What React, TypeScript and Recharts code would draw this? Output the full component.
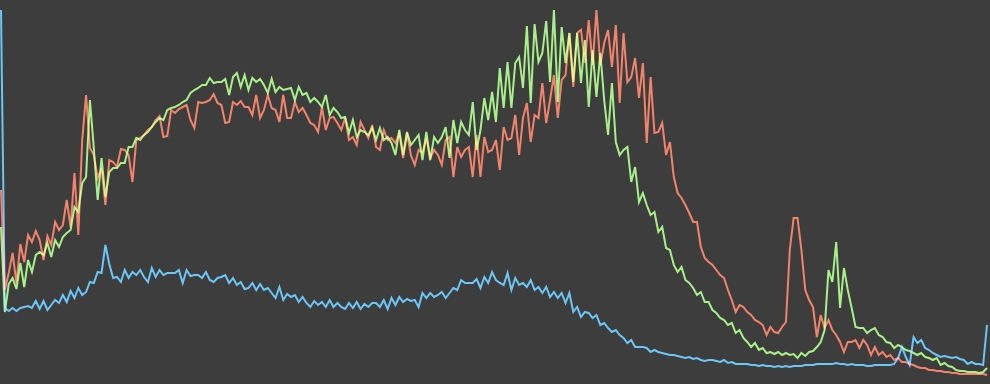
import React from "react";
import { LineChart, Line, XAxis, YAxis } from "recharts";

// Histogram counts per channel, 256 bins (0..255)
const RED: number[] = [
  186, 86, 103, 123, 93, 132, 114, 141, 134, 145, 136, 116, 140, 131, 154, 146,
  151, 176, 149, 203, 141, 236, 281, 228, 221, 198, 208, 171, 216, 214, 209, 227,
  226, 221, 194, 236, 238, 241, 246, 249, 256, 260, 239, 240, 266, 263, 267, 269,
  271, 256, 248, 274, 273, 274, 276, 282, 273, 271, 253, 254, 274, 271, 275, 269,
  269, 261, 281, 258, 266, 281, 268, 266, 254, 281, 258, 258, 274, 264, 268, 261,
  253, 251, 244, 269, 246, 258, 259, 253, 246, 258, 236, 239, 231, 254, 246, 238,
  251, 229, 226, 246, 236, 238, 233, 243, 218, 243, 221, 211, 226, 223, 238, 218,
  226, 221, 211, 236, 239, 199, 229, 219, 226, 229, 199, 241, 199, 239, 224, 226,
  236, 206, 249, 236, 238, 261, 221, 258, 273, 234, 261, 258, 293, 253, 276, 301,
  258, 296, 301, 343, 289, 343, 346, 313, 356, 311, 366, 311, 333, 346, 309, 351,
  273, 343, 294, 299, 318, 278, 313, 233, 299, 243, 244, 253, 221, 234, 199, 183,
  178, 171, 163, 154, 154, 129, 118, 114, 111, 106, 101, 98, 86, 76, 64, 71,
  69, 64, 61, 56, 54, 51, 41, 49, 44, 43, 49, 54, 126, 158, 158, 126,
  86, 76, 69, 39, 61, 48, 56, 46, 41, 34, 24, 34, 34, 36, 28, 36,
  31, 21, 29, 21, 24, 19, 21, 16, 18, 14, 14, 12, 11, 9, 8, 8,
  6, 6, 5, 5, 4, 4, 3, 3, 2, 2, 2, 2, 2, 2, 2, 1,
];

const GREEN: number[] = [
  149, 64, 92, 98, 87, 113, 89, 116, 104, 121, 124, 121, 133, 119, 136, 129,
  139, 143, 146, 169, 164, 193, 199, 276, 228, 176, 218, 179, 204, 208, 208, 213,
  213, 229, 229, 238, 236, 241, 244, 249, 254, 258, 256, 266, 268, 269, 271, 274,
  276, 283, 286, 288, 291, 291, 298, 293, 294, 294, 297, 281, 299, 303, 289, 301,
  286, 298, 294, 297, 291, 283, 297, 284, 289, 286, 287, 288, 276, 289, 281, 283,
  274, 278, 274, 269, 281, 261, 268, 264, 258, 259, 243, 256, 239, 246, 244, 241,
  248, 236, 248, 236, 239, 233, 221, 246, 221, 244, 231, 236, 241, 216, 244, 216,
  239, 233, 239, 249, 218, 256, 233, 254, 246, 241, 274, 226, 246, 278, 256, 284,
  254, 308, 268, 314, 268, 313, 319, 288, 350, 273, 352, 314, 323, 355, 294, 366,
  274, 349, 313, 343, 294, 343, 293, 336, 269, 326, 279, 323, 276, 241, 293, 234,
  221, 226, 229, 194, 209, 174, 183, 171, 161, 164, 144, 149, 128, 126, 111, 104,
  109, 96, 93, 88, 81, 84, 74, 74, 66, 63, 58, 56, 51, 53, 43, 46,
  38, 34, 29, 33, 26, 28, 23, 24, 22, 24, 21, 23, 21, 22, 18, 23,
  20, 24, 25, 29, 34, 46, 106, 94, 134, 68, 108, 86, 68, 49, 48, 48,
  43, 46, 48, 41, 39, 34, 33, 28, 31, 29, 26, 25, 23, 21, 23, 19,
  18, 16, 18, 11, 13, 10, 9, 6, 5, 5, 4, 4, 4, 3, 4, 8,
];

const BLUE: number[] = [
  366, 68, 65, 68, 65, 68, 69, 70, 68, 75, 67, 75, 66, 71, 76, 73,
  81, 74, 85, 78, 88, 81, 84, 94, 93, 104, 103, 131, 112, 98, 99, 94,
  106, 98, 104, 101, 106, 99, 94, 108, 99, 106, 101, 103, 103, 103, 106, 93,
  106, 100, 101, 101, 98, 104, 96, 94, 98, 99, 101, 93, 98, 91, 94, 87,
  88, 93, 86, 92, 86, 88, 83, 78, 89, 76, 82, 79, 81, 74, 79, 73,
  69, 75, 71, 74, 69, 76, 69, 73, 69, 67, 73, 68, 74, 67, 72, 69,
  73, 73, 69, 76, 67, 78, 71, 79, 74, 77, 75, 76, 69, 83, 78, 83,
  79, 81, 84, 78, 83, 88, 86, 96, 93, 93, 93, 97, 88, 99, 93, 104,
  96, 93, 91, 103, 86, 98, 91, 93, 89, 96, 86, 89, 83, 89, 79, 84,
  78, 83, 73, 83, 64, 69, 59, 64, 63, 58, 61, 51, 53, 48, 44, 46,
  41, 38, 33, 36, 29, 29, 29, 28, 24, 26, 24, 23, 22, 21, 21, 20,
  19, 18, 19, 17, 18, 16, 15, 16, 16, 15, 14, 16, 13, 14, 12, 12,
  12, 12, 11, 11, 10, 11, 10, 10, 9, 10, 9, 10, 9, 10, 10, 10,
  11, 11, 11, 12, 12, 12, 12, 12, 13, 12, 12, 11, 12, 11, 11, 11,
  10, 10, 11, 11, 11, 11, 11, 12, 18, 29, 19, 11, 39, 33, 36, 28,
  26, 23, 21, 19, 20, 19, 18, 19, 17, 16, 12, 14, 12, 12, 11, 51,
];

const BINS: number[] = RED.map((_, i) => i);

const data = BINS.map((bin, i) => ({
  bin,
  r: RED[i],
  g: GREEN[i],
  b: BLUE[i],
}));

export default function App() {
  return (
    <div
      style={{
        position: "absolute",
        left: 0,
        top: 0,
        width: 990,
        height: 384,
        background: "#3d3d3d",
        overflow: "hidden",
      }}
    >
      <style>{`.recharts-line-curve{mix-blend-mode:lighten}`}</style>
      <LineChart
        width={990}
        height={384}
        data={data}
        margin={{ top: 10, right: 3, bottom: 8, left: 1 }}
      >
        <XAxis dataKey="bin" type="number" domain={[0, 255]} hide />
        <YAxis type="number" domain={[0, 366]} hide />
        <Line
          type="linear"
          dataKey="b"
          stroke="#6cc6f6"
          strokeWidth={2}
          dot={false}
          isAnimationActive={false}
        />
        <Line
          type="linear"
          dataKey="r"
          stroke="#f3846c"
          strokeWidth={2}
          dot={false}
          isAnimationActive={false}
        />
        <Line
          type="linear"
          dataKey="g"
          stroke="#a8f08a"
          strokeWidth={2}
          dot={false}
          isAnimationActive={false}
        />
      </LineChart>
    </div>
  );
}
